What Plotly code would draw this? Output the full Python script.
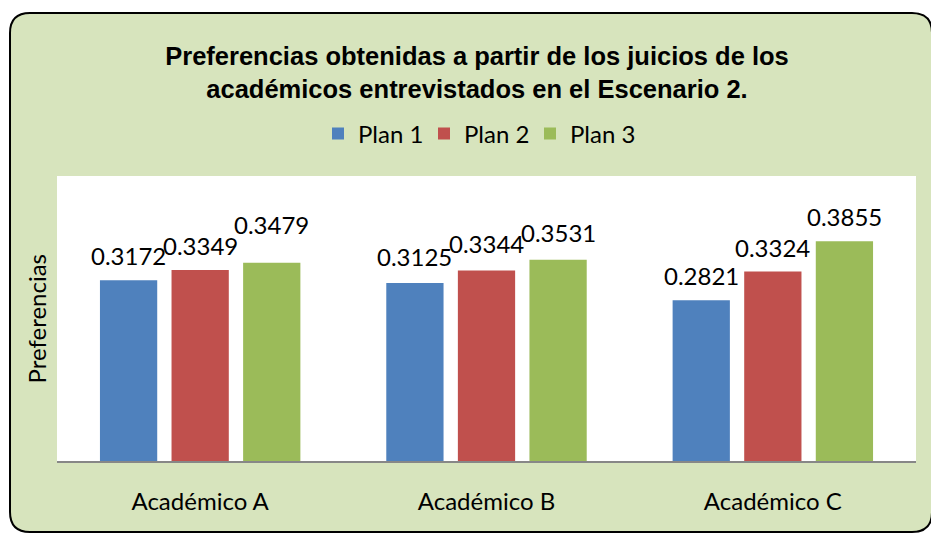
import plotly.graph_objects as go

# Chart data
categories = ["Académico A", "Académico B", "Académico C"]
series_names = ["Plan 1", "Plan 2", "Plan 3"]
plan1 = [0.3172, 0.3125, 0.2821]
plan2 = [0.3349, 0.3344, 0.3324]
plan3 = [0.3479, 0.3531, 0.3855]
series_values = [plan1, plan2, plan3]

colors = ["#4f81bd", "#c0504d", "#9bbb59"]
bg_green = "#d7e4bd"
FONT = "Lato"

W, H = 931, 533
# plot area in pixels
PL, PR, PT, PB = 57, 916, 176, 461


def px_to_paper(px, py):
    return (px - PL) / (PR - PL), (PB - py) / (PB - PT)


fig = go.Figure()
for name, vals, col in zip(series_names, series_values, colors):
    fig.add_trace(go.Bar(
        name=name, x=categories, y=vals,
        marker=dict(color=col, line=dict(width=0)),
    ))

# value labels above bars (pixel lift of the label centre above the bar top)
lift = [[25, 25, 38], [26, 27, 27], [25, 24, 25]]
slot = 0.25
for ci, cat in enumerate(categories):
    for si, vals in enumerate(series_values):
        fig.add_annotation(
            x=ci + (si - 1) * slot, y=vals[ci], xref="x", yref="y",
            text=f"{vals[ci]:.4f}", showarrow=False,
            yanchor="middle", xanchor="center", yshift=lift[ci][si],
            font=dict(family=FONT, size=24, color="black"),
        )

# y-axis title
tx, ty = px_to_paper(36, (PT + PB) / 2)
fig.add_annotation(
    x=tx, y=ty, xref="paper", yref="paper", text="Preferencias",
    textangle=-90, showarrow=False, xanchor="center", yanchor="middle",
    font=dict(family=FONT, size=24, color="black"),
)

# white page frame around the rounded green chart box, and its outline
x0, y0, x1, y1, r = 10, 13, 932, 532, 20


def P(px, py):
    a, b = px_to_paper(px, py)
    return f"{a:.5f},{b:.5f}"


rounded = (f"M{P(x0 + r, y0)} L{P(x1 - r, y0)} Q{P(x1, y0)} {P(x1, y0 + r)} "
           f"L{P(x1, y1 - r)} Q{P(x1, y1)} {P(x1 - r, y1)} "
           f"L{P(x0 + r, y1)} Q{P(x0, y1)} {P(x0, y1 - r)} "
           f"L{P(x0, y0 + r)} Q{P(x0, y0)} {P(x0 + r, y0)} Z")
# outer rectangle drawn in the opposite direction so the box becomes a hole
outer = (f"M{P(-5, -5)} L{P(-5, H + 5)} L{P(W + 5, H + 5)} "
         f"L{P(W + 5, -5)} Z")
fig.add_shape(type="path", path=outer + " " + rounded, xref="paper", yref="paper",
              fillcolor="white", line=dict(width=0), layer="above")
fig.add_shape(type="path", path=rounded, xref="paper", yref="paper",
              fillcolor="rgba(0,0,0,0)", line=dict(color="black", width=2),
              layer="above")

lx, ly = px_to_paper(477, 134)
fig.update_layout(
    width=W, height=H,
    margin=dict(l=PL, r=W - PR, t=PT, b=H - PB, pad=0),
    paper_bgcolor=bg_green,
    plot_bgcolor="white",
    barmode="group", bargap=0.25, bargroupgap=0.2,
    title=dict(
        text="Preferencias obtenidas a partir de los juicios de los<br>"
             "académicos entrevistados en el Escenario 2.",
        x=477 / W, xanchor="center", xref="container",
        y=1 - 65 / H, yanchor="top", yref="container",
        font=dict(family="Liberation Sans", size=25.5, color="black",
                  weight="bold"),
    ),
    legend=dict(
        orientation="h", x=lx, y=ly, xanchor="center", yanchor="middle",
        bgcolor="rgba(0,0,0,0)", entrywidth=61,
        font=dict(family=FONT, size=24, color="black"),
    ),
    xaxis=dict(
        showline=True, linecolor="#878787", linewidth=2,
        showgrid=False, ticks="", ticklabelstandoff=18,
        tickfont=dict(family=FONT, size=24, color="black"),
    ),
    yaxis=dict(
        range=[0, 0.5], showticklabels=False, showgrid=False,
        zeroline=False, showline=False, ticks="",
    ),
    showlegend=True,
)

fig.write_html("out.html")
